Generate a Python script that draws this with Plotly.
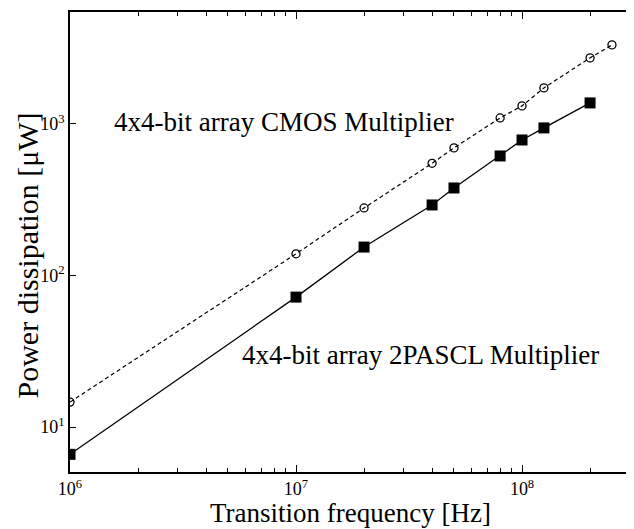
import plotly.graph_objects as go

# Data
freq_2pascl = [1e6, 1e7, 2e7, 4e7, 5e7, 8e7, 1e8, 1.25e8, 2e8]
power_2pascl = [6.6, 72, 154, 292, 378, 615, 784, 942, 1377]

freq_cmos = [1e6, 1e7, 2e7, 4e7, 5e7, 8e7, 1e8, 1.25e8, 2e8, 2.5e8]
power_cmos = [14.6, 139, 279, 550, 695, 1096, 1316, 1730, 2730, 3325]

x_tickvals = [1e6, 1e7, 1e8]
x_ticktext = ["10<sup>6</sup>", "10<sup>7</sup>", "10<sup>8</sup>"]
y_tickvals = [1e1, 1e2, 1e3]
y_ticktext = ["10<sup>1</sup>", "10<sup>2</sup>", "10<sup>3</sup>"]

FONT = "Liberation Serif, Times New Roman, serif"

fig = go.Figure()
fig.add_trace(go.Scatter(
    x=freq_cmos, y=power_cmos, mode="lines+markers", name="CMOS",
    line=dict(color="black", width=1.2, dash="4px,3px"),
    marker=dict(symbol="circle-open", size=8, color="black", line=dict(width=1.3)),
))
fig.add_trace(go.Scatter(
    x=freq_2pascl, y=power_2pascl, mode="lines+markers", name="2PASCL",
    line=dict(color="black", width=1.3),
    marker=dict(symbol="square", size=11, color="black"),
))

fig.add_annotation(x=6.947, y=3.01, xref="x", yref="y",
                   text="4x4-bit array CMOS Multiplier", showarrow=False,
                   font=dict(family=FONT, size=27, color="black"),
                   xanchor="center", yanchor="middle")
fig.add_annotation(x=7.549, y=1.475, xref="x", yref="y",
                   text="4x4-bit array 2PASCL Multiplier", showarrow=False,
                   font=dict(family=FONT, size=27, color="black"),
                   xanchor="center", yanchor="middle")

# Axis titles
fig.add_annotation(x=0.499, y=-0.089, xref="paper", yref="paper",
                   text="Transition frequency [Hz]", showarrow=False,
                   font=dict(family=FONT, size=27, color="black"),
                   xanchor="center", yanchor="middle")
fig.add_annotation(x=-0.0755, y=0.4717, xref="paper", yref="paper",
                   text="Power dissipation [μW]", showarrow=False, textangle=-90,
                   font=dict(family=FONT, size=30, color="black"),
                   xanchor="center", yanchor="middle")

fig.update_layout(
    width=626, height=521,
    margin=dict(l=62, r=1, t=4, b=57),
    paper_bgcolor="white", plot_bgcolor="white",
    showlegend=False,
    font=dict(family=FONT, color="black"),
)
fig.update_xaxes(
    type="log", range=[6, 8.491],
    tickvals=x_tickvals, ticktext=x_ticktext,
    ticks="inside", ticklen=7, tickwidth=1.2, tickcolor="black",
    minor=dict(ticks="inside", ticklen=4, tickwidth=1.2, tickcolor="black", dtick="D1", showgrid=False),
    showline=True, linecolor="black", linewidth=1.5, mirror="ticks",
    showgrid=False, zeroline=False,
    tickfont=dict(family=FONT, size=18, color="black"),
)
fig.update_yaxes(
    type="log", range=[0.703, 3.739],
    tickvals=y_tickvals, ticktext=y_ticktext,
    ticks="inside", ticklen=6, tickwidth=1.2, tickcolor="black",
    showline=True, linecolor="black", linewidth=1.5,
    showgrid=False, zeroline=False,
    tickfont=dict(family=FONT, size=18, color="black"),
)

fig.write_html("out.html")
